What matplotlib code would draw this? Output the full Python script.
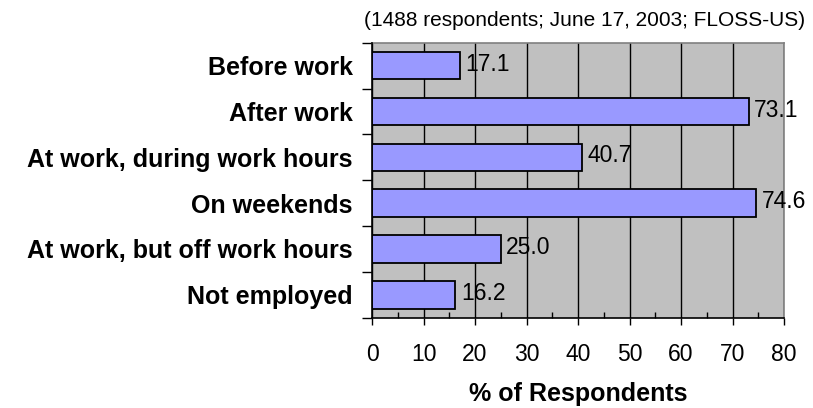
import numpy as np
import matplotlib
matplotlib.use('Agg')
import matplotlib.pyplot as plt
from matplotlib.ticker import MultipleLocator, FixedLocator

# When respondents work on FLOSS projects
categories = ['Before work', 'After work', 'At work, during work hours',
              'On weekends', 'At work, but off work hours', 'Not employed']
percent = [17.1, 73.1, 40.7, 74.6, 25.0, 16.2]
x_ticks = [0, 10, 20, 30, 40, 50, 60, 70, 80]

plt.rcParams['font.family'] = ['Liberation Sans', 'DejaVu Sans']

fig = plt.figure(figsize=(8.13, 4.08), dpi=100)
ax = fig.add_axes([0.4576, 0.2213, 0.5068, 0.674])

ypos = np.arange(len(categories))
ax.barh(ypos, percent, height=0.6, color='#9999FF', edgecolor='black',
        linewidth=1.3, zorder=3)

for y, v in zip(ypos, percent):
    ax.annotate('%.1f' % v, (v, y), xytext=(4, 1), textcoords='offset points',
                ha='left', va='center', fontsize=16.5, zorder=4)

ax.set_facecolor('#C0C0C0')
ax.set_xlim(0, 80)
ax.set_ylim(len(categories) - 0.5, -0.5)

ax.xaxis.set_major_locator(FixedLocator(x_ticks))
ax.xaxis.set_minor_locator(MultipleLocator(5))
ax.grid(axis='x', which='major', color='black', linewidth=1, zorder=1)
ax.tick_params(axis='x', which='major', direction='out', length=5,
               width=1, labelsize=16.5, pad=13)
ax.tick_params(axis='x', which='minor', direction='in', length=4.5, width=1)

# category labels sit between the boundary tick marks
ax.set_yticks(ypos)
ax.set_yticklabels(categories, fontweight='bold', fontsize=18)
ax.yaxis.set_minor_locator(FixedLocator(np.arange(-0.5, len(categories), 1)))
ax.tick_params(axis='y', which='major', length=0, pad=14)
ax.tick_params(axis='y', which='minor', direction='out', length=7, width=1)

for side in ['top', 'right']:
    ax.spines[side].set_color('#808080')
    ax.spines[side].set_linewidth(1.2)
for side in ['left', 'bottom']:
    ax.spines[side].set_color('black')
    ax.spines[side].set_linewidth(1.2)
    ax.spines[side].set_zorder(5)

ax.set_xlabel('% of Respondents', fontweight='bold', fontsize=18, labelpad=12)

fig.text(805 / 813, 1 - 20 / 408, '(1488 respondents; June 17, 2003; FLOSS-US)',
         ha='right', va='center', fontsize=15)

fig.savefig('out.png', dpi=100)
